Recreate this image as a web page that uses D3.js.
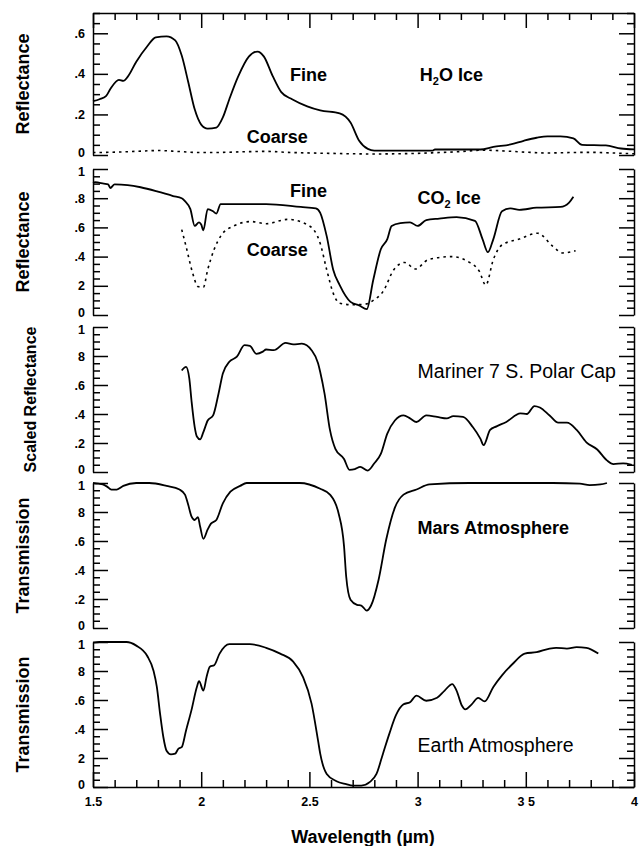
<!DOCTYPE html>
<html>
<head>
<meta charset="utf-8">
<script src="https://cdn.jsdelivr.net/npm/d3@7"></script>
<style>
  body { margin: 0; background: #fff; }
  svg { display: block; font-family: "Liberation Sans", Arial, Helvetica, sans-serif; }
</style>
</head>
<body>
<script>
// [wavelength (um), value]
var h2oFine = [[1.50,0.265],[1.53,0.275],[1.56,0.29],[1.58,0.325],[1.62,0.37],[1.64,0.365],[1.66,0.385],[1.70,0.46],[1.75,0.535],[1.79,0.58],[1.84,0.585],[1.88,0.565],[1.91,0.49],[1.94,0.36],[1.97,0.225],[2.00,0.15],[2.03,0.13],[2.07,0.135],[2.10,0.185],[2.13,0.275],[2.17,0.385],[2.22,0.485],[2.26,0.51],[2.29,0.485],[2.33,0.39],[2.37,0.31],[2.42,0.275],[2.49,0.24],[2.55,0.22],[2.64,0.205],[2.69,0.16],[2.73,0.07],[2.77,0.03],[2.80,0.022],[3.07,0.022],[3.08,0.027],[3.29,0.027],[3.35,0.04],[3.43,0.052],[3.49,0.07],[3.55,0.085],[3.60,0.092],[3.66,0.092],[3.72,0.082],[3.76,0.05],[3.87,0.047],[3.94,0.032],[4.0,0.028]];
var h2oCoarse = [[1.5,0.012],[1.6,0.014],[1.7,0.018],[1.8,0.022],[1.9,0.017],[2.0,0.012],[2.1,0.013],[2.2,0.016],[2.3,0.018],[2.4,0.013],[2.5,0.01],[2.6,0.008],[2.7,0.006],[2.8,0.005],[2.9,0.006],[3.0,0.008],[3.1,0.012],[3.2,0.017],[3.3,0.024],[3.4,0.02],[3.5,0.014],[3.6,0.01],[3.7,0.012],[3.8,0.013],[3.9,0.01],[4.0,0.006]];
var co2Fine = [[1.5,0.905],[1.51,0.91],[1.55,0.90],[1.57,0.895],[1.58,0.87],[1.60,0.895],[1.66,0.89],[1.72,0.875],[1.80,0.845],[1.87,0.815],[1.91,0.80],[1.925,0.78],[1.95,0.725],[1.97,0.61],[1.99,0.635],[2.00,0.62],[2.01,0.58],[2.03,0.725],[2.055,0.71],[2.07,0.695],[2.09,0.76],[2.15,0.76],[2.30,0.76],[2.46,0.74],[2.53,0.73],[2.55,0.70],[2.58,0.54],[2.61,0.31],[2.64,0.205],[2.69,0.09],[2.73,0.065],[2.765,0.04],[2.795,0.24],[2.83,0.45],[2.86,0.52],[2.88,0.61],[2.92,0.63],[2.965,0.635],[3.00,0.61],[3.04,0.65],[3.10,0.66],[3.18,0.67],[3.265,0.645],[3.30,0.52],[3.325,0.43],[3.35,0.52],[3.39,0.71],[3.43,0.73],[3.47,0.72],[3.55,0.735],[3.66,0.74],[3.70,0.77],[3.72,0.81]];
var co2Coarse = [[1.91,0.585],[1.93,0.47],[1.96,0.29],[1.985,0.195],[2.01,0.19],[2.03,0.31],[2.06,0.45],[2.09,0.54],[2.15,0.61],[2.23,0.64],[2.30,0.625],[2.40,0.655],[2.50,0.61],[2.55,0.49],[2.58,0.31],[2.61,0.15],[2.64,0.08],[2.70,0.07],[2.76,0.075],[2.795,0.10],[2.84,0.16],[2.89,0.31],[2.94,0.36],[2.99,0.315],[3.05,0.38],[3.16,0.40],[3.24,0.36],[3.285,0.30],[3.315,0.205],[3.35,0.38],[3.39,0.48],[3.47,0.52],[3.555,0.56],[3.625,0.47],[3.67,0.425],[3.73,0.44]];
var marinerCap = [[1.91,0.70],[1.93,0.725],[1.945,0.645],[1.955,0.495],[1.97,0.31],[1.98,0.245],[1.995,0.225],[2.01,0.275],[2.03,0.355],[2.055,0.39],[2.08,0.54],[2.10,0.68],[2.13,0.76],[2.165,0.795],[2.20,0.875],[2.225,0.87],[2.255,0.815],[2.285,0.83],[2.30,0.845],[2.335,0.84],[2.39,0.89],[2.425,0.88],[2.465,0.885],[2.51,0.84],[2.54,0.75],[2.55,0.69],[2.57,0.54],[2.595,0.29],[2.62,0.16],[2.66,0.09],[2.685,0.015],[2.71,0.02],[2.735,0.035],[2.77,0.01],[2.80,0.06],[2.83,0.125],[2.86,0.265],[2.895,0.355],[2.935,0.39],[2.965,0.37],[2.995,0.345],[3.04,0.39],[3.09,0.38],[3.135,0.37],[3.165,0.385],[3.21,0.38],[3.255,0.31],[3.29,0.23],[3.305,0.185],[3.335,0.29],[3.365,0.315],[3.41,0.345],[3.475,0.405],[3.505,0.40],[3.54,0.455],[3.565,0.445],[3.61,0.39],[3.65,0.34],[3.69,0.34],[3.735,0.29],[3.78,0.205],[3.83,0.155],[3.875,0.08],[3.905,0.055],[3.95,0.06],[3.99,0.05]];
var marsAtm = [[1.5,1.0],[1.525,0.995],[1.545,0.99],[1.565,0.975],[1.585,0.955],[1.61,0.955],[1.64,0.98],[1.70,1.0],[1.76,1.0],[1.84,0.98],[1.90,0.955],[1.925,0.92],[1.94,0.85],[1.955,0.77],[1.97,0.745],[1.985,0.765],[1.995,0.70],[2.01,0.615],[2.03,0.68],[2.045,0.72],[2.07,0.745],[2.10,0.86],[2.135,0.94],[2.18,0.98],[2.21,1.0],[2.455,1.0],[2.55,0.96],[2.595,0.92],[2.635,0.79],[2.66,0.565],[2.67,0.355],[2.69,0.195],[2.72,0.16],[2.74,0.155],[2.765,0.12],[2.785,0.155],[2.82,0.335],[2.855,0.61],[2.895,0.83],[2.935,0.92],[2.995,0.955],[3.055,0.99],[3.24,1.0],[3.625,1.0],[3.75,0.995],[3.795,0.985],[3.845,0.99],[3.875,1.0]];
var earthAtm = [[1.5,0.995],[1.53,1.0],[1.655,1.0],[1.70,0.975],[1.75,0.905],[1.78,0.80],[1.795,0.69],[1.81,0.505],[1.825,0.345],[1.84,0.25],[1.86,0.225],[1.88,0.23],[1.895,0.265],[1.91,0.275],[1.93,0.39],[1.955,0.53],[1.98,0.69],[1.99,0.73],[2.01,0.665],[2.025,0.76],[2.04,0.83],[2.06,0.84],[2.085,0.92],[2.13,0.985],[2.225,0.985],[2.30,0.96],[2.365,0.92],[2.425,0.865],[2.47,0.76],[2.51,0.575],[2.54,0.32],[2.55,0.23],[2.58,0.09],[2.625,0.04],[2.67,0.02],[2.70,0.01],[2.74,0.01],[2.78,0.035],[2.81,0.09],[2.84,0.23],[2.87,0.37],[2.90,0.495],[2.935,0.57],[2.965,0.585],[2.995,0.63],[3.04,0.595],[3.09,0.615],[3.125,0.665],[3.16,0.71],[3.18,0.665],[3.205,0.56],[3.22,0.535],[3.25,0.57],[3.28,0.615],[3.31,0.59],[3.35,0.69],[3.39,0.77],[3.44,0.85],[3.495,0.92],[3.55,0.93],[3.61,0.955],[3.64,0.96],[3.69,0.955],[3.735,0.965],[3.78,0.96],[3.835,0.92]];

// tick labels as printed (some decimal points are lost in the original)
var xTickValues = [1.5, 2, 2.5, 3, 3.5, 4];
var xTickLabels = ["1.5", "2", "2.5", "3", "3 5", "4"];
var p1Labels = ["0", ".2", ".4", ".6"];
var p2Labels = ["0", "2", ".4", ".6", ".8", "1"];
var p3Labels = ["0", ".2", ".4", ".6", "8", "1"];
var p4Labels = ["0", ".2", ".4", ".6", "8", "1"];
var p5Labels = ["0", "2", ".4", ".6", "8", "1"];

var W = 639, H = 846;
var svg = d3.select("body").append("svg").attr("width", W).attr("height", H);
var x = d3.scaleLinear().domain([1.5, 4]).range([93, 634]);

var panels = [
  { max: 0.7, top: 13, bottom: 155, labels: p1Labels, title: "Reflectance", tx: 23, ts: 18,
    series: [{ d: h2oFine }, { d: h2oCoarse, dash: true }],
    notes: [{ t: "Fine", x: 2.41, y: 0.395 }, { t: "Coarse", x: 2.21, y: 0.09 }, { t: "H", sub: "2", rest: "O Ice", x: 3.01, y: 0.395 }] },
  { max: 1, top: 169, bottom: 315, labels: p2Labels, title: "Reflectance", tx: 23, ts: 18,
    series: [{ d: co2Fine }, { d: co2Coarse, dash: true }],
    notes: [{ t: "Fine", x: 2.41, y: 0.85 }, { t: "Coarse", x: 2.21, y: 0.448 }, { t: "CO", sub: "2", rest: " Ice", x: 3.0, y: 0.807 }] },
  { max: 1, top: 327, bottom: 472, labels: p3Labels, title: "Scaled Reflectance", tx: 30, ts: 16,
    series: [{ d: marinerCap }],
    notes: [{ t: "Mariner 7 S. Polar Cap", x: 3.0, y: 0.697, light: true }] },
  { max: 1, top: 483, bottom: 628, labels: p4Labels, title: "Transmission", tx: 23, ts: 18,
    series: [{ d: marsAtm }],
    notes: [{ t: "Mars Atmosphere", x: 3.0, y: 0.69 }] },
  { max: 1, top: 642, bottom: 787, labels: p5Labels, title: "Transmission", tx: 23, ts: 18,
    series: [{ d: earthAtm }],
    notes: [{ t: "Earth Atmosphere", x: 3.0, y: 0.288, light: true }] }
];

function styleAxis(g) {
  g.selectAll("path, line").attr("stroke", "#000").attr("stroke-width", 1.5);
  g.selectAll("text").attr("font-size", 12.5).attr("font-weight", "bold")
    .attr("font-family", "'Liberation Sans', Arial, sans-serif").attr("fill", "#000");
}

panels.forEach(function(p) {
  var y = d3.scaleLinear().domain([0, p.max]).range([p.bottom, p.top]);
  var majors = d3.range(0, p.max + 1e-9, 0.2).map(function(v) { return +v.toFixed(2); });
  var minors = d3.range(0, p.max + 1e-9, 0.05).map(function(v) { return +v.toFixed(2); })
    .filter(function(v) { return majors.indexOf(v) < 0; });
  var g = svg.append("g");

  // left axis with labels; end labels nudged apart like the printed figure
  g.append("g").attr("transform", "translate(" + x.range()[0] + ",0)")
    .call(d3.axisLeft(y).tickValues(majors).tickSizeInner(-15).tickSizeOuter(0).tickPadding(8)
      .tickFormat(function(d, i) { return p.labels[i]; }))
    .call(styleAxis)
    .selectAll(".tick text").attr("transform", function(d) {
      return d === 0 ? "translate(0,-2.5)" : d === 1 ? "translate(0,2)" : null;
    });
  g.append("g").attr("transform", "translate(" + x.range()[0] + ",0)")
    .call(d3.axisLeft(y).tickValues(minors).tickSize(-7).tickFormat(""))
    .call(styleAxis).select(".domain").remove();

  // right axis, ticks only
  g.append("g").attr("transform", "translate(" + x.range()[1] + ",0)")
    .call(d3.axisRight(y).tickValues(majors).tickSizeInner(-15).tickSizeOuter(0).tickFormat(""))
    .call(styleAxis);
  g.append("g").attr("transform", "translate(" + x.range()[1] + ",0)")
    .call(d3.axisRight(y).tickValues(minors).tickSize(-7).tickFormat(""))
    .call(styleAxis).select(".domain").remove();

  // curves
  var ln = d3.line().x(function(d) { return x(d[0]); }).y(function(d) { return y(d[1]); }).curve(d3.curveMonotoneX);
  p.series.forEach(function(s) {
    g.append("path").datum(s.d).attr("d", ln)
      .attr("fill", "none").attr("stroke", "#000")
      .attr("stroke-width", s.dash ? 1.6 : 1.8)
      .attr("stroke-dasharray", s.dash ? "2.5,4" : null)
      .attr("stroke-linejoin", "round");
  });

  // y title
  g.append("text")
    .attr("transform", "translate(" + (p.tx + 0.36 * p.ts) + "," + ((p.top + p.bottom) / 2) + ") rotate(-90)")
    .attr("text-anchor", "middle").attr("font-size", p.ts).attr("font-weight", "bold")
    .text(p.title);

  // panel notes
  p.notes.forEach(function(n) {
    var fs = n.light ? 19.5 : 18;
    var t = g.append("text").attr("x", x(n.x)).attr("y", y(n.y)).attr("dy", (0.36 * fs) + "px")
      .attr("font-size", fs).attr("font-weight", n.light ? "normal" : "bold").text(n.t);
    if (n.sub) {
      t.append("tspan").attr("font-size", 11).attr("dy", 4).text(n.sub);
      t.append("tspan").attr("dy", -4).text(n.rest);
    }
  });
});

// x axes: top border on first panel, labelled axis under last panel
var xMinor = d3.range(1.6, 4, 0.1).map(function(v) { return +v.toFixed(2); })
  .filter(function(v) { return xTickValues.indexOf(v) < 0; });
var topY = panels[0].top, botY = panels[4].bottom;

svg.append("g").attr("transform", "translate(0," + topY + ")")
  .call(d3.axisTop(x).tickValues(xTickValues).tickSizeInner(-15).tickSizeOuter(0).tickFormat(""))
  .call(styleAxis);
svg.append("g").attr("transform", "translate(0," + topY + ")")
  .call(d3.axisTop(x).tickValues(xMinor).tickSize(-7).tickFormat(""))
  .call(styleAxis).select(".domain").remove();

svg.append("g").attr("transform", "translate(0," + botY + ")")
  .call(d3.axisBottom(x).tickValues(xTickValues).tickSizeInner(-15).tickSizeOuter(0).tickPadding(10)
    .tickFormat(function(d, i) { return xTickLabels[i]; }))
  .call(styleAxis);
svg.append("g").attr("transform", "translate(0," + botY + ")")
  .call(d3.axisBottom(x).tickValues(xMinor).tickSize(-7).tickFormat(""))
  .call(styleAxis).select(".domain").remove();

svg.append("text").attr("x", 363).attr("y", 836).attr("dy", "6.5px")
  .attr("text-anchor", "middle").attr("font-size", 18).attr("font-weight", "bold")
  .text("Wavelength (\u00b5m)");
</script>
</body>
</html>
